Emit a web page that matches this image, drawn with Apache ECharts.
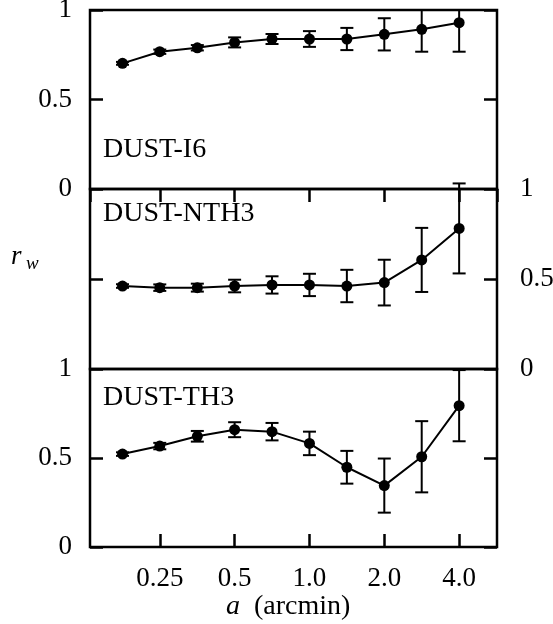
<!DOCTYPE html>
<html>
<head>
<meta charset="utf-8">
<script src="https://cdn.jsdelivr.net/npm/echarts@6/dist/echarts.min.js"></script>
<style>
  html, body { margin: 0; padding: 0; background: #fff; }
  #chart { width: 553px; height: 624px; }
</style>
</head>
<body>
<div id="chart"></div>
<script>
// Smoothing scale a (arcmin), shared by the three panels
const scaleA = [0.177, 0.25, 0.354, 0.5, 0.707, 1.0, 1.414, 2.0, 2.828, 4.0];
const xTickLabels = ['0.25', '0.5', '1.0', '2.0', '4.0'];
const rTickLabels = ['0', '0.5', '1'];

// Correlation coefficient r_w and its 1-sigma error per panel
const i6Values   = [0.702, 0.767, 0.789, 0.819, 0.838, 0.838, 0.838, 0.864, 0.892, 0.929];
const i6Errors   = [0.008, 0.012, 0.015, 0.028, 0.028, 0.044, 0.062, 0.090, 0.125, 0.162];
const nth3Values = [0.461, 0.452, 0.452, 0.461, 0.467, 0.467, 0.461, 0.480, 0.606, 0.781];
const nth3Errors = [0.010, 0.018, 0.022, 0.035, 0.048, 0.062, 0.090, 0.127, 0.178, 0.250];
const th3Values  = [0.522, 0.567, 0.622, 0.659, 0.648, 0.582, 0.448, 0.345, 0.507, 0.794];
const th3Errors  = [0.010, 0.018, 0.030, 0.042, 0.049, 0.066, 0.092, 0.152, 0.200, 0.200];

const panelNames = ['DUST-I6', 'DUST-NTH3', 'DUST-TH3'];

const FONT = '"Liberation Serif", "Times New Roman", serif';
const FS = 27;

const chart = echarts.init(document.getElementById('chart'), null, { renderer: 'canvas' });

const grids = [
  { left: 90, width: 407, top: 10,  height: 179 },
  { left: 90, width: 407, top: 189, height: 180 },
  { left: 90, width: 407, top: 369, height: 178 }
].map(g => Object.assign(g, {
  show: true, borderColor: '#000', borderWidth: 2.5, backgroundColor: 'transparent',
  containLabel: false, outerBoundsMode: 'none'
}));

function xAxisFor(gridIndex, position, withTicks, withLabels) {
  return {
    type: 'log', logBase: 2, gridIndex, position,
    min: 0.131, max: 5.68,
    axisLine: { show: false },
    splitLine: { show: false },
    axisTick: { show: withTicks, inside: true, length: 13, lineStyle: { color: '#000', width: 2.5 } },
    axisLabel: {
      show: withLabels, margin: 18, color: '#000', fontFamily: FONT, fontSize: FS,
      showMinLabel: false, showMaxLabel: false,
      formatter: v => {
        const k = Math.log2(v) + 2;
        const i = Math.round(k);
        return Math.abs(k - i) < 1e-6 && i >= 0 && i < xTickLabels.length ? xTickLabels[i] : '';
      }
    }
  };
}

function yAxisFor(gridIndex, position, withLabels) {
  return {
    type: 'value', gridIndex, position, min: 0, max: 1, interval: 0.5,
    axisLine: { show: false },
    splitLine: { show: false },
    axisTick: { show: true, inside: true, length: 13, lineStyle: { color: '#000', width: 2.5 } },
    axisLabel: {
      show: withLabels, color: '#000', fontFamily: FONT, fontSize: FS,
      margin: position === 'left' ? 18 : 23,
      align: position === 'left' ? 'right' : 'left',
      formatter: v => rTickLabels[Math.round(v * 2)]
    }
  };
}

const xAxes = [
  xAxisFor(0, 'top', true, false),
  xAxisFor(1, 'bottom', false, false),
  xAxisFor(2, 'bottom', true, true)
];

const yAxes = [
  yAxisFor(0, 'left', true),  yAxisFor(0, 'right', false),
  yAxisFor(1, 'left', false), yAxisFor(1, 'right', true),
  yAxisFor(2, 'left', true),  yAxisFor(2, 'right', false)
];

// Error bars with caps; the top panel trims bars at its upper frame
function errorBarSeries(idx, values, errors, trimTop) {
  return {
    type: 'custom', xAxisIndex: idx, yAxisIndex: idx * 2, z: 3,
    data: scaleA.map((a, i) => [a, values[i] - errors[i], values[i] + errors[i]]),
    renderItem: (params, api) => {
      const x = api.value(0);
      const hi = api.coord([x, api.value(2)]);
      const lo = api.coord([x, api.value(1)]);
      const cs = params.coordSys;
      let yTop = hi[1];
      let capTop = true;
      if (trimTop && yTop < cs.y) { yTop = cs.y; capTop = false; }
      const half = 6.5;
      const st = { stroke: '#000', lineWidth: 2 };
      const children = [
        { type: 'line', shape: { x1: hi[0], y1: yTop, x2: lo[0], y2: lo[1] }, style: st },
        { type: 'line', shape: { x1: lo[0] - half, y1: lo[1], x2: lo[0] + half, y2: lo[1] }, style: st }
      ];
      if (capTop) {
        children.push({ type: 'line', shape: { x1: hi[0] - half, y1: yTop, x2: hi[0] + half, y2: yTop }, style: st });
      }
      return { type: 'group', children };
    }
  };
}

function lineSeries(idx, values) {
  return {
    type: 'line', xAxisIndex: idx, yAxisIndex: idx * 2, z: 4,
    data: scaleA.map((a, i) => [a, values[i]]),
    symbol: 'circle', symbolSize: 11, showSymbol: true,
    lineStyle: { color: '#000', width: 2 },
    itemStyle: { color: '#000' },
    animation: false
  };
}

const labelY = [149.5, 214, 397.5];
const graphics = panelNames.map((name, i) => ({
  type: 'text', x: 103, y: labelY[i], z: 10,
  style: { text: name, fill: '#000', font: '28px ' + FONT, align: 'left', verticalAlign: 'middle' }
}));

// r_w axis title and a (arcmin) axis title
graphics.push(
  { type: 'text', x: 11, y: 257, style: { text: 'r', fill: '#000', font: 'italic ' + FS + 'px ' + FONT, align: 'left', verticalAlign: 'middle' } },
  { type: 'text', x: 26, y: 264, style: { text: 'w', fill: '#000', font: 'italic 19px ' + FONT, align: 'left', verticalAlign: 'middle' } },
  { type: 'text', x: 226, y: 607, style: {
      text: '{i|a}  (arcmin)', fill: '#000', font: '28px ' + FONT, align: 'left', verticalAlign: 'middle',
      rich: { i: { fontStyle: 'italic', fontFamily: FONT, fontSize: 28 } }
  } }
);

chart.setOption({
  animation: false,
  backgroundColor: '#fff',
  grid: grids,
  xAxis: xAxes,
  yAxis: yAxes,
  series: [
    errorBarSeries(0, i6Values, i6Errors, true),
    errorBarSeries(1, nth3Values, nth3Errors, false),
    errorBarSeries(2, th3Values, th3Errors, false),
    lineSeries(0, i6Values),
    lineSeries(1, nth3Values),
    lineSeries(2, th3Values)
  ],
  graphic: graphics
});
</script>
</body>
</html>
